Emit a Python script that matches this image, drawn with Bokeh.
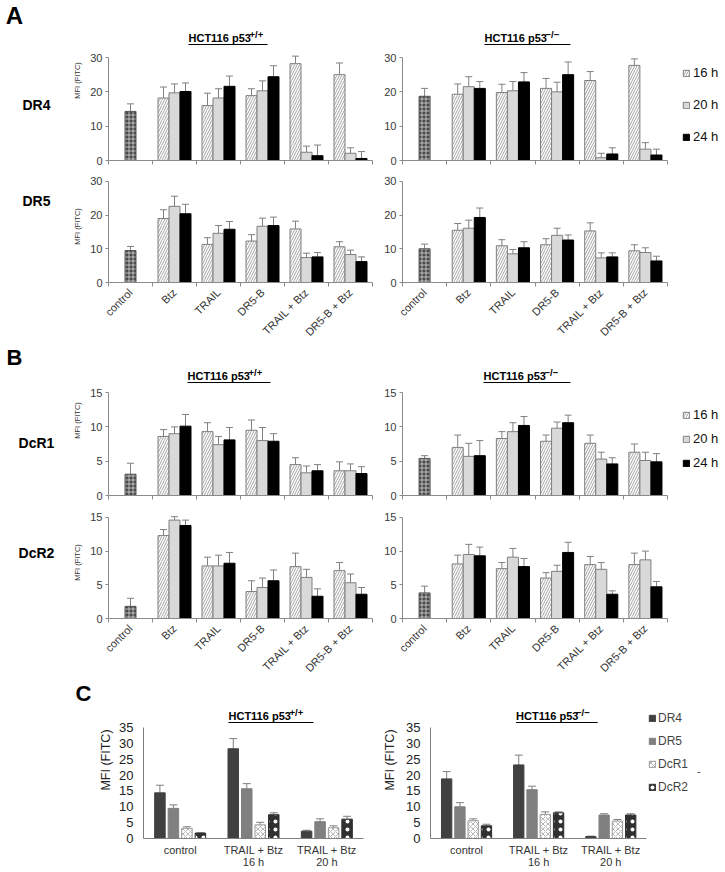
import math
from bokeh.plotting import figure
from bokeh.models import (Range1d, FixedTicker, Whisker, TeeHead, ColumnDataSource,
                          Legend, LegendItem)
from bokeh.layouts import column, row
from bokeh.embed import file_html
from bokeh.resources import INLINE
from bokeh.core.properties import value

FONT = "Liberation Sans"

# ---------------------------------------------------------------- data
categories = ["control", "Btz", "TRAIL", "DR5-B", "TRAIL + Btz", "DR5-B + Btz"]
time_labels = ["16 h", "20 h", "24 h"]

# Panel A – DR4
dr4_wt_control, dr4_wt_control_err = 14.3, 2.2
dr4_wt_16 = [18.2, 16.0, 18.9, 28.2, 25.0]; dr4_wt_16_err = [3.2, 3.6, 2.0, 2.2, 3.4]
dr4_wt_20 = [19.7, 18.2, 20.3, 2.4, 2.1];   dr4_wt_20_err = [2.6, 2.7, 2.9, 1.8, 1.6]
dr4_wt_24 = [20.1, 21.6, 24.4, 1.4, 0.6];   dr4_wt_24_err = [2.5, 3.0, 3.2, 3.1, 2.0]

dr4_ko_control, dr4_ko_control_err = 18.7, 2.3
dr4_ko_16 = [19.3, 19.8, 21.0, 23.3, 27.7]; dr4_ko_16_err = [3.0, 2.4, 2.9, 2.6, 1.9]
dr4_ko_20 = [21.5, 20.3, 20.0, 0.8, 3.3];   dr4_ko_20_err = [2.9, 2.7, 2.8, 1.3, 1.9]
dr4_ko_24 = [21.0, 22.9, 25.0, 1.9, 1.6];   dr4_ko_24_err = [2.0, 2.7, 3.7, 1.8, 1.7]

# Panel A – DR5
dr5_wt_control, dr5_wt_control_err = 9.5, 1.2
dr5_wt_16 = [19.0, 11.3, 12.3, 15.9, 10.6]; dr5_wt_16_err = [2.6, 2.0, 1.9, 2.3, 1.5]
dr5_wt_20 = [22.6, 14.6, 16.7, 7.4, 8.3];   dr5_wt_20_err = [3.0, 2.3, 2.4, 1.3, 1.3]
dr5_wt_24 = [20.4, 15.8, 16.9, 7.6, 6.2];   dr5_wt_24_err = [2.8, 2.3, 2.5, 1.3, 1.4]

dr5_ko_control, dr5_ko_control_err = 10.0, 1.4
dr5_ko_16 = [15.5, 10.9, 11.2, 15.3, 9.4];  dr5_ko_16_err = [2.0, 1.8, 1.8, 2.4, 1.8]
dr5_ko_20 = [16.1, 8.5, 14.0, 7.3, 8.9];    dr5_ko_20_err = [2.4, 1.3, 2.1, 1.5, 1.4]
dr5_ko_24 = [19.3, 10.3, 12.6, 7.6, 6.4];   dr5_ko_24_err = [2.8, 1.8, 1.5, 1.2, 1.4]

# Panel B – DcR1
dcr1_wt_control, dcr1_wt_control_err = 3.1, 1.6
dcr1_wt_16 = [8.6, 9.3, 9.5, 4.5, 3.6];  dcr1_wt_16_err = [1.0, 1.3, 1.5, 1.0, 1.3]
dcr1_wt_20 = [9.0, 7.4, 8.0, 3.3, 3.6];  dcr1_wt_20_err = [1.0, 1.2, 1.9, 1.0, 1.0]
dcr1_wt_24 = [10.1, 8.1, 7.9, 3.6, 3.2]; dcr1_wt_24_err = [1.7, 1.8, 1.1, 0.9, 1.0]

dcr1_ko_control, dcr1_ko_control_err = 5.4, 0.4
dcr1_ko_16 = [7.0, 8.3, 7.9, 7.6, 6.3];   dcr1_ko_16_err = [1.8, 1.0, 0.9, 1.2, 1.2]
dcr1_ko_20 = [5.7, 9.3, 9.8, 5.3, 5.1];   dcr1_ko_20_err = [1.9, 1.3, 0.9, 1.0, 1.2]
dcr1_ko_24 = [5.8, 10.2, 10.6, 4.6, 4.9]; dcr1_ko_24_err = [2.2, 1.3, 1.1, 0.9, 1.2]

# Panel B – DcR2
dcr2_wt_control, dcr2_wt_control_err = 1.8, 1.2
dcr2_wt_16 = [12.3, 7.8, 4.0, 7.7, 7.1]; dcr2_wt_16_err = [0.9, 1.3, 1.6, 2.0, 1.2]
dcr2_wt_20 = [14.6, 7.8, 4.6, 6.1, 5.3]; dcr2_wt_20_err = [0.5, 1.6, 1.4, 1.2, 1.3]
dcr2_wt_24 = [13.8, 8.2, 5.6, 3.3, 3.6]; dcr2_wt_24_err = [0.8, 1.6, 1.6, 1.1, 1.0]

dcr2_ko_control, dcr2_ko_control_err = 3.8, 1.0
dcr2_ko_16 = [8.1, 7.4, 6.0, 8.0, 8.0]; dcr2_ko_16_err = [1.3, 0.9, 0.8, 1.2, 1.7]
dcr2_ko_20 = [9.5, 9.1, 7.0, 7.3, 8.7]; dcr2_ko_20_err = [1.5, 1.3, 0.9, 1.0, 1.3]
dcr2_ko_24 = [9.3, 7.7, 9.8, 3.6, 4.7]; dcr2_ko_24_err = [1.3, 1.2, 1.5, 0.5, 0.8]

# Panel C
c_groups = ["control", "TRAIL + Btz\n16 h", "TRAIL + Btz\n20 h"]
receptors = ["DR4", "DR5", "DcR1", "DcR2"]
c_wt_dr4 = [14.4, 28.3, 2.3];  c_wt_dr4_err = [2.4, 3.2, 0.3]
c_wt_dr5 = [9.5, 15.7, 5.3];   c_wt_dr5_err = [1.1, 1.6, 0.9]
c_wt_dcr1 = [3.2, 4.3, 3.4];   c_wt_dcr1_err = [0.5, 0.8, 0.6]
c_wt_dcr2 = [1.7, 7.5, 6.1];   c_wt_dcr2_err = [0.1, 0.6, 0.9]
c_ko_dr4 = [18.8, 23.2, 0.6];  c_ko_dr4_err = [2.3, 3.1, 0.15]
c_ko_dr5 = [10.0, 15.4, 7.4];  c_ko_dr5_err = [1.3, 1.1, 0.4]
c_ko_dcr1 = [5.6, 7.6, 5.5];   c_ko_dcr1_err = [0.6, 0.8, 0.5]
c_ko_dcr2 = [4.0, 8.1, 7.4];   c_ko_dcr2_err = [0.5, 0.3, 0.4]

# ---------------------------------------------------------------- styles
AX = "#8a8a8a"
ERR = "#808080"
time_styles = [
    dict(fill_color="white", line_color="#7f7f7f", hatch_pattern="/",
         hatch_color="#8c8c8c", hatch_scale=5, hatch_weight=0.8),
    dict(fill_color="#d9d9d9", line_color="#7f7f7f"),
    dict(fill_color="black", line_color="black"),
]
control_style = dict(fill_color="#4a4a4a", line_color="#555555", hatch_pattern="+",
                     hatch_color="white", hatch_scale=4, hatch_weight=0.6)
c_styles = [
    dict(fill_color="#404040", line_color="#404040"),
    dict(fill_color="#808080", line_color="#808080"),
    dict(fill_color="white", line_color="#9a9a9a", hatch_pattern="x",
         hatch_color="#9a9a9a", hatch_scale=5, hatch_weight=0.7),
    dict(fill_color="#303030", line_color="#303030", hatch_pattern=".",
         hatch_color="white", hatch_scale=8, hatch_weight=0.5),
]


class Map:
    def __init__(self, x0, sx, y0, sy):
        self.x0, self.sx, self.y0, self.sy = x0, sx, y0, sy

    def tx(self, px):
        return (px - self.x0) / self.sx

    def ty(self, py):
        return (self.y0 - py) / self.sy


def base_fig(left, top, right, bottom, x0, sx, y0, sy):
    p = figure(width=right - left, height=bottom - top,
               x_range=Range1d(0, (right - x0) / sx),
               y_range=Range1d(0, (y0 - top) / sy),
               output_backend="svg", toolbar_location=None, title=None,
               min_border_left=x0 - left, min_border_right=0,
               min_border_top=0, min_border_bottom=bottom - y0)
    p.outline_line_color = None
    p.grid.visible = False
    return p, Map(x0, sx, y0, sy)


def label_fig(left, top, right, bottom, texts):
    p = figure(width=right - left, height=bottom - top,
               x_range=Range1d(left, right), y_range=Range1d(bottom, top),
               output_backend="svg", toolbar_location=None, title=None,
               x_axis_location=None, y_axis_location=None, min_border=0)
    p.outline_line_color = None
    p.grid.visible = False
    for (t, x, y, size) in texts:
        p.text(x=[x], y=[y], text=[t], text_font=value(FONT),
               text_font_size=value(size), text_font_style="bold",
               text_align="center", text_baseline="middle", text_color="black")
    return p


def add_title(p, m, left_px, y_px, sup, ul_right, size=11, sup_size=9.5):
    w = 5.5 * size
    p.text(x=[m.tx(left_px)], y=[m.ty(y_px)], text=["HCT116 p53"], text_font=value(FONT),
           text_font_size=value(f"{size}px"), text_font_style="bold",
           text_align="left", text_baseline="middle", text_color="black")
    p.text(x=[m.tx(left_px + w + 0.5)], y=[m.ty(y_px - 3)], text=[sup], text_font=value(FONT),
           text_font_size=value(f"{sup_size}px"), text_font_style="bold",
           text_align="left", text_baseline="middle", text_color="black")
    p.segment(x0=[m.tx(left_px)], y0=[m.ty(y_px + 7)], x1=[m.tx(ul_right)], y1=[m.ty(y_px + 7)],
              line_color="black", line_width=1)


def style_y(p, ymax, step, ylabel=None, standoff=5):
    ax = p.yaxis[0]
    ax.bounds = (0, ymax)
    ax.ticker = FixedTicker(ticks=list(range(0, ymax + 1, step)))
    ax.axis_line_color = AX
    ax.major_tick_line_color = AX
    ax.major_tick_out = 3
    ax.major_tick_in = 0
    ax.minor_tick_out = 0
    ax.minor_tick_in = 0
    ax.major_label_standoff = 3
    ax.major_label_text_font = FONT
    ax.major_label_text_font_size = "11px"
    ax.major_label_text_color = "#3a3a3a"
    if ylabel:
        ax.axis_label = ylabel
        ax.axis_label_text_font = FONT
        ax.axis_label_text_font_size = "7.5px"
        ax.axis_label_text_font_style = "normal"
        ax.axis_label_text_color = "#333333"
        ax.axis_label_standoff = standoff


def bar_chart(box, x0, sx, y0, sy, ymax, step, ctrl, ctrl_err, series, errs,
              show_xlabels, ylabel):
    left, top, right, bottom = box
    p, m = base_fig(left, top, right, bottom, x0, sx, y0, sy)
    n = len(categories)
    ax = p.xaxis[0]
    ax.bounds = (0, n)
    centers = [i + 0.5 for i in range(n)]
    boundaries = list(range(n + 1))
    ax.axis_line_color = AX
    ax.minor_tick_line_color = AX
    ax.major_tick_out = 0
    ax.major_tick_in = 0
    ax.minor_tick_out = 4
    ax.minor_tick_in = 0
    ax.major_label_text_font = FONT
    ax.major_label_text_color = "#333333"
    if show_xlabels:
        ax.ticker = FixedTicker(ticks=centers, minor_ticks=boundaries)
        ax.major_label_overrides = {c: lab for c, lab in zip(centers, categories)}
        ax.major_label_orientation = math.pi / 4
        ax.major_label_text_font_size = "11px"
        ax.major_label_standoff = 4
    else:
        ax.ticker = FixedTicker(ticks=[], minor_ticks=boundaries)
        ax.major_label_standoff = 0
    style_y(p, ymax, step, ylabel)

    bw = 0.25
    csrc = ColumnDataSource(dict(x=[0.5], top=[ctrl], upper=[ctrl + ctrl_err]))
    p.vbar(x="x", top="top", width=bw, bottom=0, source=csrc, **control_style)
    p.add_layout(Whisker(source=csrc, base="x", lower="top", upper="upper", line_color=ERR,
                         upper_head=TeeHead(size=7, line_color=ERR), lower_head=None))
    rends = []
    offs = [-bw, 0.0, bw]
    for k in range(3):
        xs = [i + 0.5 + offs[k] for i in range(1, n)]
        src = ColumnDataSource(dict(x=xs, top=series[k],
                                    upper=[v + e for v, e in zip(series[k], errs[k])]))
        r = p.vbar(x="x", top="top", width=bw, bottom=0, source=src, **time_styles[k])
        rends.append(r)
        p.add_layout(Whisker(source=src, base="x", lower="top", upper="upper", line_color=ERR,
                             upper_head=TeeHead(size=7, line_color=ERR), lower_head=None))
    return p, m, rends


def time_legend(p, rends, x, y, spacing):
    leg = Legend(items=[LegendItem(label=t, renderers=[r]) for t, r in zip(time_labels, rends)],
                 location=(x, y), orientation="vertical", glyph_width=8, glyph_height=8,
                 label_height=15, label_width=20, spacing=spacing, padding=0, margin=0,
                 border_line_color=None, background_fill_alpha=0, label_standoff=3,
                 label_text_font=FONT, label_text_font_size="13px", label_text_color="#111111")
    p.add_layout(leg)


# ---------------------------------------------------------------- rows
SXL = 44.0
SXR = 265.0 / 6
W = 725

A1L, mA1L, _ = bar_chart((62, 0, 375, 170), 108, SXL, 160, 103 / 30, 30, 10,
                         dr4_wt_control, dr4_wt_control_err,
                         [dr4_wt_16, dr4_wt_20, dr4_wt_24],
                         [dr4_wt_16_err, dr4_wt_20_err, dr4_wt_24_err], False, "MFI (FITC)")
A1R, mA1R, rA1R = bar_chart((375, 0, W, 170), 402, SXR, 160, 103 / 30, 30, 10,
                            dr4_ko_control, dr4_ko_control_err,
                            [dr4_ko_16, dr4_ko_20, dr4_ko_24],
                            [dr4_ko_16_err, dr4_ko_20_err, dr4_ko_24_err], False, None)
add_title(A1L, mA1L, 188, 37, "+/+", 267)
add_title(A1R, mA1R, 484, 37, "\u2212/\u2212", 570)
time_legend(A1R, rA1R, 280, 16, 17)

A2L, mA2L, _ = bar_chart((62, 170, 375, 345), 108, SXL, 283, 102 / 30, 30, 10,
                         dr5_wt_control, dr5_wt_control_err,
                         [dr5_wt_16, dr5_wt_20, dr5_wt_24],
                         [dr5_wt_16_err, dr5_wt_20_err, dr5_wt_24_err], True, "MFI (FITC)")
A2R, mA2R, _ = bar_chart((375, 170, W, 345), 402, SXR, 283, 102 / 30, 30, 10,
                         dr5_ko_control, dr5_ko_control_err,
                         [dr5_ko_16, dr5_ko_20, dr5_ko_24],
                         [dr5_ko_16_err, dr5_ko_20_err, dr5_ko_24_err], True, None)

B1L, mB1L, _ = bar_chart((62, 345, 375, 506), 108, SXL, 495, 103 / 15, 15, 5,
                         dcr1_wt_control, dcr1_wt_control_err,
                         [dcr1_wt_16, dcr1_wt_20, dcr1_wt_24],
                         [dcr1_wt_16_err, dcr1_wt_20_err, dcr1_wt_24_err], False, "MFI (FITC)")
B1R, mB1R, rB1R = bar_chart((375, 345, W, 506), 402, SXR, 495, 103 / 15, 15, 5,
                            dcr1_ko_control, dcr1_ko_control_err,
                            [dcr1_ko_16, dcr1_ko_20, dcr1_ko_24],
                            [dcr1_ko_16_err, dcr1_ko_20_err, dcr1_ko_24_err], False, None)
add_title(B1L, mB1L, 187, 375, "+/+", 270)
add_title(B1R, mB1R, 483, 375, "\u2212/\u2212", 570)
time_legend(B1R, rB1R, 280, 25, 9)

B2L, mB2L, _ = bar_chart((62, 506, 375, 681), 108, SXL, 619, 102 / 15, 15, 5,
                         dcr2_wt_control, dcr2_wt_control_err,
                         [dcr2_wt_16, dcr2_wt_20, dcr2_wt_24],
                         [dcr2_wt_16_err, dcr2_wt_20_err, dcr2_wt_24_err], True, "MFI (FITC)")
B2R, mB2R, _ = bar_chart((375, 506, W, 681), 402, SXR, 619, 102 / 15, 15, 5,
                         dcr2_ko_control, dcr2_ko_control_err,
                         [dcr2_ko_16, dcr2_ko_20, dcr2_ko_24],
                         [dcr2_ko_16_err, dcr2_ko_20_err, dcr2_ko_24_err], True, None)


def c_chart(box, x0, y0, sy, vals, errs, ylabel_standoff):
    left, top, right, bottom = box
    sx = 220.0 / 3
    p, m = base_fig(left, top, right, bottom, x0, sx, y0, sy)
    n = len(c_groups)
    ax = p.xaxis[0]
    ax.bounds = (0, n)
    centers = [i + 0.5 for i in range(n)]
    ax.ticker = FixedTicker(ticks=centers)
    ax.major_label_overrides = {c: lab for c, lab in zip(centers, c_groups)}
    ax.axis_line_color = "#7f7f7f"
    ax.major_tick_out = 0
    ax.major_tick_in = 0
    ax.minor_tick_out = 0
    ax.minor_tick_in = 0
    ax.major_label_standoff = 5
    ax.major_label_text_font = FONT
    ax.major_label_text_font_size = "11px"
    ax.major_label_text_line_height = 1.0
    ax.major_label_text_color = "#333333"
    ay = p.yaxis[0]
    ay.bounds = (0, 35)
    ay.ticker = FixedTicker(ticks=list(range(0, 36, 5)))
    ay.axis_line_color = "#7f7f7f"
    ay.major_tick_out = 0
    ay.major_tick_in = 0
    ay.minor_tick_out = 0
    ay.minor_tick_in = 0
    ay.major_label_standoff = 10
    ay.major_label_text_font = FONT
    ay.major_label_text_font_size = "13px"
    ay.major_label_text_color = "#222222"
    ay.axis_label = "MFI (FITC)"
    ay.axis_label_text_font = FONT
    ay.axis_label_text_font_size = "12.5px"
    ay.axis_label_text_font_style = "normal"
    ay.axis_label_text_color = "#222222"
    ay.axis_label_standoff = ylabel_standoff
    pitch = 13.5 / sx
    bw = 10.5 / sx
    rends = []
    for k in range(4):
        xs = [i + 0.5 + (k - 1.5) * pitch for i in range(n)]
        src = ColumnDataSource(dict(x=xs, top=vals[k],
                                    upper=[v + e for v, e in zip(vals[k], errs[k])]))
        r = p.vbar(x="x", top="top", width=bw, bottom=0, source=src, **c_styles[k])
        rends.append(r)
        p.add_layout(Whisker(source=src, base="x", lower="top", upper="upper",
                             line_color="#7f7f7f",
                             upper_head=TeeHead(size=8, line_color="#7f7f7f"), lower_head=None))
    return p, m, rends


CL, mCL, _ = c_chart((95, 681, 380, 872), 143, 838, 111 / 35,
                     [c_wt_dr4, c_wt_dr5, c_wt_dcr1, c_wt_dcr2],
                     [c_wt_dr4_err, c_wt_dr5_err, c_wt_dcr1_err, c_wt_dcr2_err], 3)
CR, mCR, rCR = c_chart((380, 681, W, 872), 425, 838, 111 / 35,
                       [c_ko_dr4, c_ko_dr5, c_ko_dcr1, c_ko_dcr2],
                       [c_ko_dr4_err, c_ko_dr5_err, c_ko_dcr1_err, c_ko_dcr2_err], 6)
add_title(CL, mCL, 228, 715, "+/+", 313)
add_title(CR, mCR, 512, 715, "\u2212/\u2212", 595)
legC = Legend(items=[LegendItem(label=t, renderers=[r]) for t, r in zip(receptors, rCR)],
              location=(218, 44), orientation="vertical", glyph_width=8, glyph_height=8,
              label_height=14, label_width=20, spacing=9, padding=0, margin=0,
              border_line_color=None, background_fill_alpha=0, label_standoff=2,
              label_text_font=FONT, label_text_font_size="12px", label_text_color="#444444")
CR.add_layout(legC)
CR.text(x=[mCR.tx(698)], y=[mCR.ty(770)], text=["-"], text_font=value(FONT),
        text_font_size=value("11px"), text_align="center", text_baseline="middle",
        text_color="#444444")

LA1 = label_fig(0, 0, 62, 170, [("A", 14, 16, "24px"), ("DR4", 36, 111, "14px")])
LA2 = label_fig(0, 170, 62, 345, [("DR5", 36, 217, "14px")])
LB1 = label_fig(0, 345, 62, 506, [("B", 14, 358, "22px"), ("DcR1", 36, 450, "14px")])
LB2 = label_fig(0, 506, 62, 681, [("DcR2", 36, 578, "14px")])
LC = label_fig(0, 681, 95, 872, [("C", 83, 695, "22px")])

layout = column(
    row(LA1, A1L, A1R),
    row(LA2, A2L, A2R),
    row(LB1, B1L, B1R),
    row(LB2, B2L, B2R),
    row(LC, CL, CR),
)

open("out.html", "w").write(file_html(layout, INLINE))
